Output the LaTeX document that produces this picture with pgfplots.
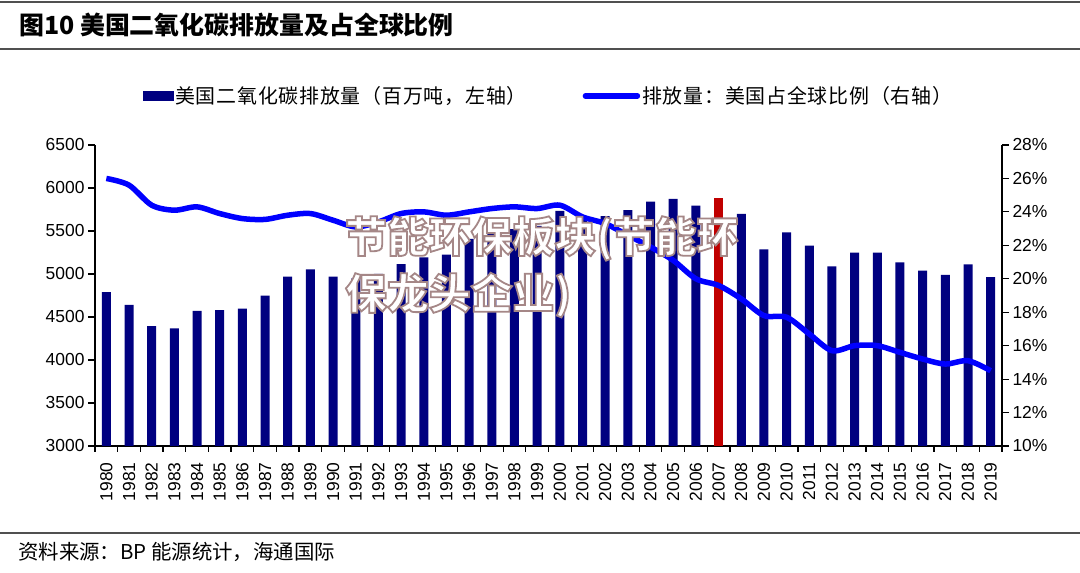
\documentclass[border=0pt]{standalone}
\usepackage{pgfplots}
\pgfplotsset{compat=1.18}
\usepackage{fontspec}
\setmainfont{Liberation Sans}
\newfontfamily\cjk{Noto Sans CJK SC}
\newfontfamily\cjkls[LetterSpace=4]{Noto Sans CJK SC}
\definecolor{navy}{RGB}{0,0,128}
\definecolor{lblue}{RGB}{0,0,255}
\definecolor{barred}{RGB}{192,0,0}
\definecolor{rulec}{RGB}{80,80,80}
\pgfplotstableread{
year co2
1980 4790
1981 4640
1982 4395
1983 4368
1984 4570
1985 4581
1986 4597
1987 4748
1988 4969
1989 5054
1990 4969
1991 4950
1992 5000
1993 5116
1994 5194
1995 5225
1996 5407
1997 5473
1998 5523
1999 5560
2000 5735
2001 5650
2002 5674
2003 5744
2004 5841
2005 5872
2006 5794
2008 5698
2009 5287
2010 5484
2011 5329
2012 5089
2013 5248
2014 5248
2015 5136
2016 5039
2017 4990
2018 5113
2019 4965
}\bars
\pgfplotstableread{
year co2
2007 5880
}\redbar
\pgfplotstableread{
year share
1980 26.0
1981 25.6
1982 24.4
1983 24.1
1984 24.3
1985 23.9
1986 23.6
1987 23.55
1988 23.8
1989 23.9
1990 23.5
1991 23.1
1992 23.4
1993 23.9
1994 24.0
1995 23.8
1996 24.0
1997 24.2
1998 24.3
1999 24.2
2000 24.4
2001 23.7
2002 23.3
2003 22.6
2004 21.9
2005 21.1
2006 20.0
2007 19.6
2008 18.8
2009 17.8
2010 17.7
2011 16.7
2012 15.7
2013 16.0
2014 16.0
2015 15.6
2016 15.2
2017 14.9
2018 15.1
2019 14.5
}\share
\begin{document}
\begin{tikzpicture}[x=1bp,y=1bp]
\path[use as bounding box,fill=white] (0,0) rectangle (1080,573);
\draw[rulec,line width=1.5bp] (0,571) -- (1080,571);
\draw[rulec,line width=1.2bp] (0,524) -- (1080,524);
\draw[rulec,line width=1.2bp] (0,40) -- (1080,40);
\node[anchor=west,inner sep=0] at (19,548) {\cjk\bfseries\fontsize{25}{28}\selectfont 图10 美国二氧化碳排放量及占全球比例};
\node[anchor=west,inner sep=0] at (18,21) {\cjk\fontsize{20.5}{22}\selectfont 资料来源：BP 能源统计，海通国际};
\begin{axis}[
  at={(95bp,127bp)}, anchor=south west, scale only axis,
  width=907bp, height=301bp,
  xmin=1979.5, xmax=2019.5, ymin=3000, ymax=6500,
  axis x line*=bottom, axis y line*=left,
  axis line style={line width=1.2bp},
  ytick={3000,3500,...,6500},
  xtick={1980,...,2019},
  minor xtick={1979.5,1980.5,...,2019.6},
  major x tick style={draw=none},
  minor x tick style={line width=1.2bp,black},
  minor tick length=6bp,
  major tick length=7bp,
  y tick style={line width=1.2bp,black},
  tick align=outside,
  /pgf/number format/assume math mode=true,
  /pgf/number format/set thousands separator={},
  tick label style={font=\fontsize{17.5}{20}\selectfont},
  x tick label style={rotate=90,anchor=east,yshift=0bp,xshift=-6bp},
]
\addplot[ybar, bar width=9bp, bar shift=0pt, fill=navy, draw=none] table[x=year,y=co2]{\bars};
\addplot[ybar, bar width=9bp, bar shift=0pt, fill=barred, draw=none] table[x=year,y=co2]{\redbar};
\end{axis}
\begin{axis}[
  at={(95bp,127bp)}, anchor=south west, scale only axis,
  width=907bp, height=301bp,
  xmin=1979.5, xmax=2019.5, ymin=10, ymax=28,
  axis x line=none, axis y line*=right,
  axis line style={line width=1.2bp},
  ytick={10,12,...,28},
  yticklabel={\pgfmathprintnumber{\tick}\%},
  y tick style={line width=1.2bp,black},
  major tick length=7bp,
  tick align=outside,
  /pgf/number format/assume math mode=true,
  tick label style={font=\fontsize{17.5}{20}\selectfont},
  legend style={at={(0.5,1.163)}, anchor=center, draw=none, fill=none,
    legend columns=2, font=\cjkls\fontsize{20}{22}\selectfont,
    /tikz/every even column/.append style={column sep=54bp}},
  legend cell align=left,
]
\addlegendimage{legend image code/.code={\fill[navy] (0bp,-4.5bp) rectangle (30bp,4.5bp);}}
\addlegendentry{美国二氧化碳排放量（百万吨，左轴）}
\addplot[lblue, line width=5.5bp, smooth, tension=0.5,
  legend image code/.code={\draw[lblue,line width=5.5bp,line cap=round] (0bp,0bp) -- (52bp,0bp);}]
  table[x=year,y=share]{\share};
\addlegendentry{排放量：美国占全球比例（右轴）}
\end{axis}
\node[anchor=north west,inner sep=0,text=white,align=left,
  font=\cjk\bfseries\fontsize{42}{57}\selectfont] at (345,357)
  {\special{pdf:code q 2 Tr 1.8 w 0.647 0.529 0.529 RG 1 g}%
   节能环保板块(节能环\\保龙头企业)%
   \special{pdf:code Q}};
\end{tikzpicture}
\end{document}
